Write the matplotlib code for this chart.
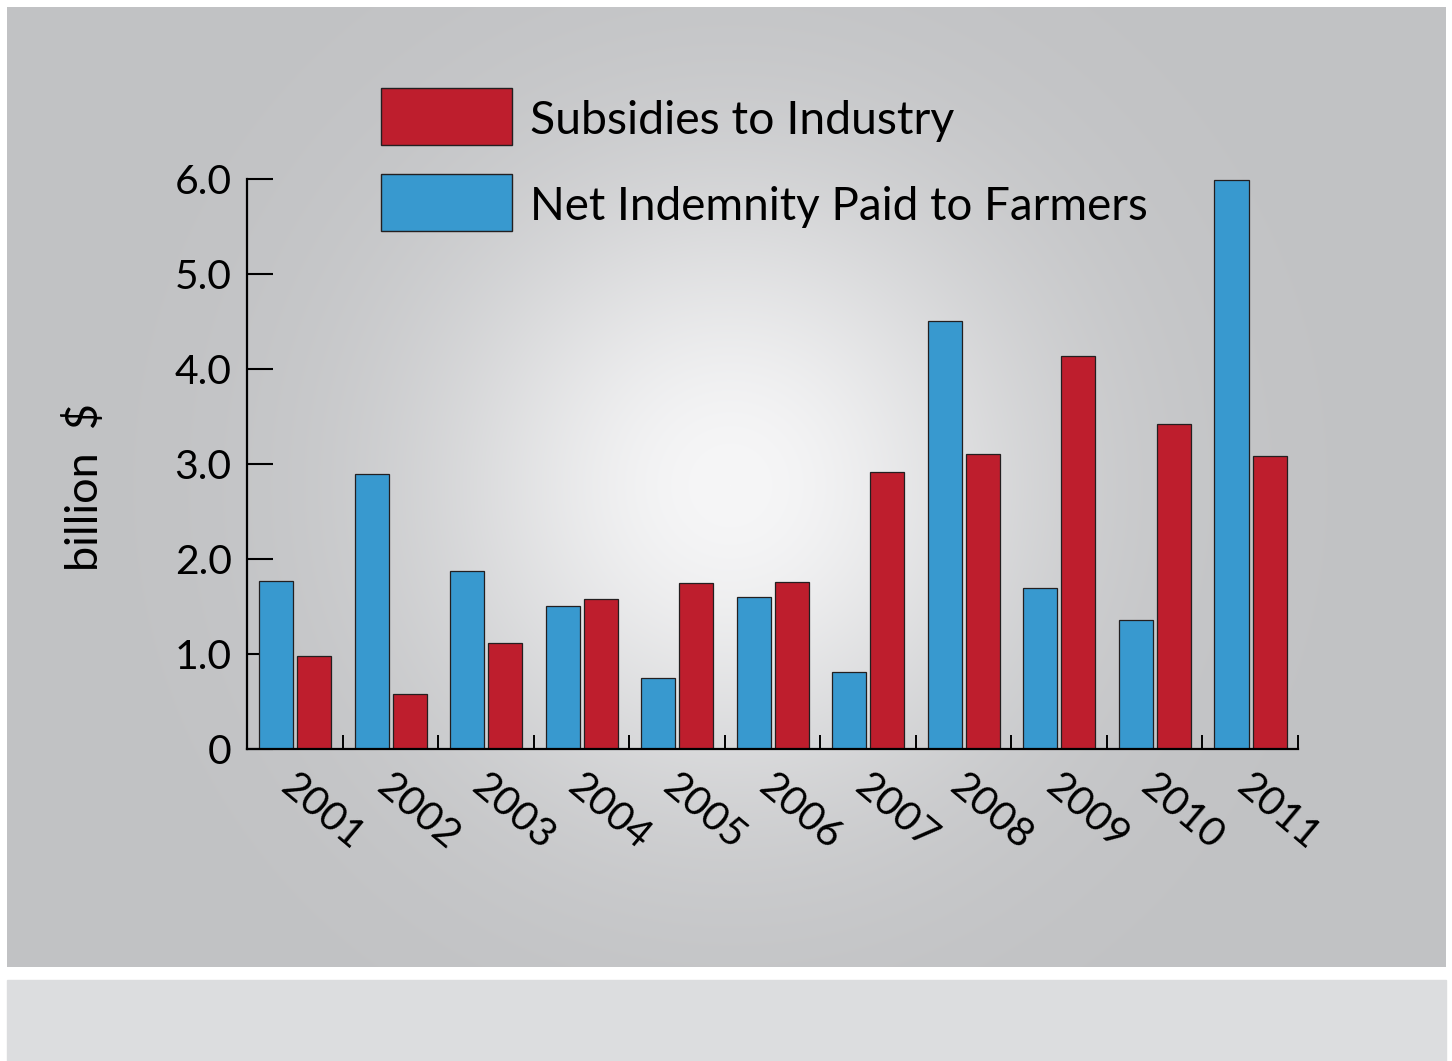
import matplotlib
matplotlib.use("Agg")
import matplotlib.pyplot as plt
import matplotlib.transforms as mtransforms
from matplotlib.patches import Rectangle
import numpy as np

plt.rcParams['font.family'] = ['Lato', 'DejaVu Sans']

years = ["2001", "2002", "2003", "2004", "2005", "2006",
         "2007", "2008", "2009", "2010", "2011"]
indemnity = [1.77, 2.89, 1.87, 1.51, 0.75, 1.60, 0.81, 4.51, 1.69, 1.36, 5.99]
subsidies = [0.98, 0.58, 1.12, 1.58, 1.75, 1.76, 2.92, 3.11, 4.14, 3.42, 3.08]
yticks = [0, 1, 2, 3, 4, 5, 6]
ytick_labels = ["0", "1.0", "2.0", "3.0", "4.0", "5.0", "6.0"]
series_names = ["Subsidies to Industry", "Net Indemnity Paid to Farmers"]

RED = "#be1e2d"
BLUE = "#3899cf"
EDGE = "#231f20"

W, H = 1452, 1061
fig = plt.figure(figsize=(W / 100, H / 100), dpi=100)
fig.patch.set_facecolor("white")


def fx(px):
    return px / W


def fy(py):
    return 1 - py / H


# gray panel with a soft radial glow in the middle
bg = fig.add_axes([fx(7), fy(967), fx(1446 - 7), (967 - 7) / H], zorder=-5)
xx, yy = np.meshgrid(np.arange(7, 1446), np.arange(7, 967))
r = np.hypot(xx - 730, yy - 485)
glow = np.exp(-(r / 300.0) ** 2)
edge_c = np.array([193, 194, 196]) / 255
center_c = np.array([246, 246, 247]) / 255
img = edge_c + (center_c - edge_c) * glow[..., None]
bg.imshow(img, aspect="auto", interpolation="bilinear")
bg.axis("off")

fig.patches.append(Rectangle((fx(7), 0), fx(1446 - 7), (1061 - 980) / H,
                             transform=fig.transFigure, color="#dcdddf",
                             zorder=-5))

ax = fig.add_axes([fx(247), fy(749), fx(1298 - 247), (749 - 179) / H])
ax.patch.set_alpha(0)

idx = np.arange(len(years))
bw = 0.356
ax.bar(idx + 0.304, indemnity, bw, color=BLUE, edgecolor=EDGE, linewidth=0.9, zorder=2)
ax.bar(idx + 0.702, subsidies, bw, color=RED, edgecolor=EDGE, linewidth=0.9, zorder=2)

ax.set_xlim(0, len(years))
ax.set_ylim(0, 6)
for s in ["top", "right"]:
    ax.spines[s].set_visible(False)
for s in ["left", "bottom"]:
    ax.spines[s].set_linewidth(1.6)
    ax.spines[s].set_color("black")
    ax.spines[s].set_zorder(3)

ax.set_xticks(np.arange(1, len(years) + 1))
ax.tick_params(axis="x", direction="in", length=10, width=1.4,
               labelbottom=False)
ax.set_yticks(yticks)
ax.set_yticklabels(ytick_labels)
ax.tick_params(axis="y", direction="in", length=19, width=1.5, pad=11)

fig.canvas.draw()
renderer = fig.canvas.get_renderer()


def fit(t, target_px):
    w = t.get_window_extent(renderer).width
    t.set_fontsize(t.get_fontsize() * target_px / w)


# size tick labels so "6.0" spans about 57 px
probe = fig.text(0, 0, "6.0", fontsize=30)
fit(probe, 57)
tick_fs = probe.get_fontsize()
probe.remove()
for lab in ax.get_yticklabels():
    lab.set_fontsize(tick_fs)

# year labels, slanted under each pair of bars
trans = mtransforms.blended_transform_factory(ax.transData, fig.transFigure)
for i, yr in enumerate(years):
    ax.text(i + 0.53, fy(767), yr, transform=trans, fontsize=tick_fs,
            rotation=-40, rotation_mode="anchor", ha="left", va="top",
            clip_on=False)

ylab = fig.text(fx(85), fy(487), "billion  $", rotation=90,
                ha="center", va="center", fontsize=30)
ylab_h = ylab.get_window_extent(renderer).height
ylab.set_fontsize(30 * 168 / ylab_h)

# legend keys drawn by hand
keys = [(RED, 88, 145, 134, 425), (BLUE, 174, 231, 220, 618)]
for (col, top, bot, base, wpx), name in zip(keys, series_names):
    fig.patches.append(Rectangle((fx(381), fy(bot)), fx(512 - 381), (bot - top) / H,
                                 transform=fig.transFigure, facecolor=col,
                                 edgecolor=EDGE, linewidth=1.0))
    t = fig.text(fx(530), fy(base), name, ha="left", va="baseline", fontsize=36)
    fit(t, wpx)

fig.savefig("out.png", dpi=100)
